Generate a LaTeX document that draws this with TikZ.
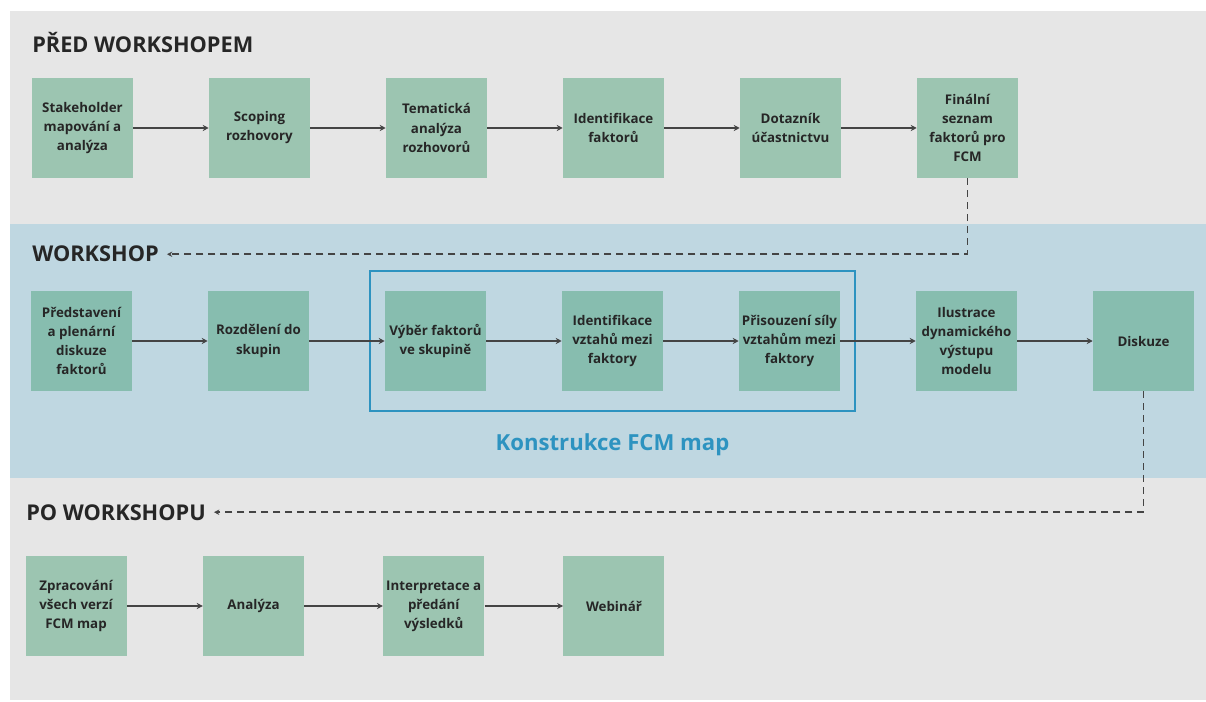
\documentclass[tikz,border=0pt]{standalone}
\usepackage{fontspec}
\setmainfont{Open Sans}
\usetikzlibrary{positioning,fit,arrows.meta}

\definecolor{panelgrey}{HTML}{E6E6E6}
\definecolor{panelblue}{HTML}{BFD7E1}
\definecolor{sage}{HTML}{9CC5B1}
\definecolor{teal}{HTML}{87BDAF}
\definecolor{frameblue}{HTML}{2D93C0}
\definecolor{txt}{HTML}{262626}
\definecolor{linegrey}{HTML}{444444}

\begin{document}
\begin{tikzpicture}[x=0.75pt, y=-0.75pt, node distance=56.6pt,
  every node/.style={text=txt, font=\bfseries\fontsize{10}{14.3}\selectfont},
  box/.style={rectangle, fill=sage, minimum width=75.75pt, minimum height=75pt, align=center, inner sep=1pt},
  tbox/.style={box, fill=teal},
  head/.style={inner sep=0pt, anchor=base west, font=\bfseries\fontsize{16.3}{19}\selectfont},
  flow/.style={draw=linegrey, line width=1.3pt, -{Stealth[length=4.5pt,width=4.5pt]}},
  back/.style={draw=linegrey, line width=1.1pt, dash pattern=on 5.25pt off 3.75pt, -{Stealth[length=4pt,width=4pt]}, shorten >=6pt}]

\useasboundingbox (0,0) rectangle (1206,702);
% sections
\fill[panelgrey] (10,11) rectangle (1206,224);
\fill[panelblue] (10,224) rectangle (1206,478);
\fill[panelgrey] (10,478) rectangle (1206,700);

\node (hpred) [head] at (32,53) {PŘED WORKSHOPEM};
\node (hws) [head] at (32,262) {WORKSHOP};
\node (hpo) [head] at (26,520) {PO WORKSHOPU};

% before the workshop
\node (sm) [box] at (82.5,128) {Stakeholder\\mapování a\\analýza};
\node (sr) [box, right=of sm] {Scoping\\rozhovory};
\node (ta) [box, right=of sr] {Tematická\\analýza\\rozhovorů};
\node (if) [box, right=of ta] {Identifikace\\faktorů};
\node (dq) [box, right=of if] {Dotazník\\účastnictvu};
\node (fs) [box, right=of dq] {Finální\\seznam\\faktorů pro\\FCM};

\draw[flow] (sm) -- (sr);
\draw[flow] (sr) -- (ta);
\draw[flow] (ta) -- (if);
\draw[flow] (if) -- (dq);
\draw[flow] (dq) -- (fs);

% workshop
\node (pd) [tbox] at (81.5,341) {Představení\\a plenární\\diskuze\\faktorů};
\node (rs) [tbox, right=of pd] {Rozdělení do\\skupin};
\node (vf) [tbox, right=of rs] {Výběr faktorů\\ve skupině};
\node (iv) [tbox, right=of vf] {Identifikace\\vztahů mezi\\faktory};
\node (ps) [tbox, right=of iv] {Přisouzení síly\\vztahům mezi\\faktory};
\node (il) [tbox, right=of ps] {Ilustrace\\dynamického\\výstupu\\modelu};
\node (di) [tbox, right=of il] {Diskuze};

\node (frame) [draw=frameblue, line width=1.5pt, fit=(vf)(ps), inner xsep=11.25pt, inner ysep=15pt] {};
\node (kfm) [anchor=base, text=frameblue, font=\bfseries\fontsize{16.6}{19}\selectfont] at ([yshift=-28.5pt]frame.south) {Konstrukce FCM map};

\draw[flow] (pd) -- (rs);
\draw[flow] (rs) -- (vf);
\draw[flow] (vf) -- (iv);
\draw[flow] (iv) -- (ps);
\draw[flow] (ps) -- (il);
\draw[flow] (il) -- (di);

% after the workshop
\node (zv) [box] at (76,606) {Zpracování\\všech verzí\\FCM map};
\node (an) [box, right=57pt of zv] {Analýza};
\node (ip) [box, right=59pt of an] {Interpretace a\\předání\\výsledků};
\node (we) [box, right=59pt of ip] {Webinář};

\draw[flow] (zv) -- (an);
\draw[flow] (an) -- (ip);
\draw[flow] (ip) -- (we);

% links between phases
\draw[back] (fs.south) |- (hws.east);
\draw[back] (di.south) |- (hpo.east);
\end{tikzpicture}
\end{document}
